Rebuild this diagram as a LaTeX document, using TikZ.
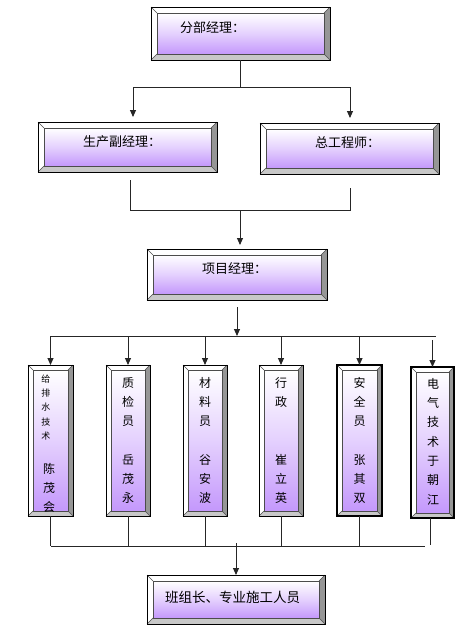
\documentclass[tikz,border=0pt]{standalone}
\usepackage{fontspec}
\newfontfamily\cjk{Noto Sans CJK SC}
\usetikzlibrary{calc,arrows.meta}
\definecolor{lav}{RGB}{196,152,252}
\definecolor{bevR}{RGB}{150,150,150}
\definecolor{bevB}{RGB}{200,200,200}
\tikzset{
  conn/.style={draw=black!85, line width=0.9pt},
  arr/.style={conn, -{Triangle[length=7pt,width=6pt]}},
  lbl/.style={font=\cjk\fontsize{13}{15}\selectfont, inner sep=0pt, anchor=west, text=black},
  col/.style={font=\cjk\fontsize{12}{19.3}\selectfont, align=center, inner sep=0pt, text=black},
  colsmall/.style={font=\cjk\fontsize{9}{14.2}\selectfont, align=center, inner sep=0pt, text=black},
}
% #1 name, #2 cx, #3 cy, #4 W, #5 H, #6 bevel, #7 frame width
\newcommand\bevbox[7]{%
  \node[inner sep=0pt, outer sep=0pt, minimum width=#4pt, minimum height=#5pt] (#1) at (#2,#3) {};
  \fill[white] (#1.north west) -- (#1.north east) -- ($(#1.north east)+(-#6,#6)$) -- ($(#1.north west)+(#6,#6)$) -- ($(#1.south west)+(#6,-#6)$) -- (#1.south west) -- cycle;
  \fill[bevR] (#1.north east) -- (#1.south east) -- ($(#1.south east)+(-#6,-#6)$) -- ($(#1.north east)+(-#6,#6)$) -- cycle;
  \fill[bevB] (#1.south west) -- (#1.south east) -- ($(#1.south east)+(-#6,-#6)$) -- ($(#1.south west)+(#6,-#6)$) -- cycle;
  \shade[top color=white, bottom color=lav, middle color=lav!45, draw=black!70, line width=0.5pt] ($(#1.north west)+(#6,#6)$) rectangle ($(#1.south east)+(-#6,-#6)$);
  \draw[black!70, line width=0.4pt] (#1.north west) -- ++(#6,#6) (#1.north east) -- ++(-#6,#6) (#1.south west) -- ++(#6,-#6) (#1.south east) -- ++(-#6,-#6);
  \draw[black, line width=#7] (#1.north west) rectangle (#1.south east);
}
\begin{document}
\begin{tikzpicture}[x=1pt,y=-1pt]
\fill[white] (0,0) rectangle (473,638);
\useasboundingbox (0,0) rectangle (473,638);

% boxes
\bevbox{A}{240.5}{33.5}{179}{53}{6}{0.8pt}
\bevbox{B}{127.5}{147}{179}{50}{6}{0.8pt}
\bevbox{C}{349.5}{148.5}{179}{51}{6}{0.8pt}
\bevbox{D}{237}{274.5}{180}{51}{6}{0.8pt}
\bevbox{E}{236}{599.5}{178}{49}{6}{0.8pt}
\bevbox{t1}{50.5}{440.5}{45}{151}{5}{0.8pt}
\bevbox{t2}{128}{440.5}{44}{151}{5}{0.8pt}
\bevbox{t3}{205}{440.5}{44}{151}{5}{0.8pt}
\bevbox{t4}{281}{440.5}{44}{151}{5}{0.8pt}
\bevbox{t5}{359.5}{440.5}{45}{151}{5}{1.1pt}
\bevbox{t6}{432.5}{442.5}{43}{151}{5}{1.6pt}

% labels
\node[lbl] (lA) at (180,28) {分部经理：};
\node[lbl] (lB) at (83,142) {生产副经理：};
\node[lbl] (lC) at (315,143) {总工程师：};
\node[lbl] (lD) at (202,269) {项目经理：};
\node[lbl, font=\cjk\fontsize{13.5}{15}\selectfont] (lE) at (165,597) {班组长、专业施工人员};

\node[colsmall] (l1a) at (46,407.5) {给\\排\\水\\技\\术};
\node[col] (l1b) at (49,488) {陈\\茂\\会};
\node[col] (l2) at (128,440.5) {质\\检\\员\\[19.3pt]岳\\茂\\永};
\node[col] (l3) at (205,440.5) {材\\料\\员\\[19.3pt]谷\\安\\波};
\node[col] (l4) at (281,440.5) {行\\政\\[38.6pt]崔\\立\\英};
\node[col] (l5) at (359.5,440.5) {安\\全\\员\\[19.3pt]张\\其\\双};
\node[col] (l6) at (433,441.5) {电\\气\\技\\术\\于\\朝\\江};

% level 1 connectors
\coordinate (j1) at (240,87);
\coordinate (jl) at (133,87);
\coordinate (jr) at (350,87);
\draw[conn] (A.south) -- (A.south |- j1);
\draw[conn] (jl) -- (jr);
\draw[arr, shorten >=5pt] (jl) -- (jl |- B.north);
\draw[arr, shorten >=5pt] (jr) -- (jr |- C.north);

% level 2 connectors
\coordinate (kl) at (130,210);
\coordinate (kr) at (350,210);
\coordinate (km) at (240,210);
\draw[conn] ([yshift=-8pt]B.south -| kl) -- (kl) -- (kr) -- ([yshift=-14pt]C.south -| kr);
\draw[arr, shorten >=4pt] (km) -- (km |- D.north);

% level 3 connectors
\coordinate (m) at (237,336);
\coordinate (hl) at (51,336);
\coordinate (hr) at (436,336);
\draw[arr] ([yshift=-7pt]D.south -| m) -- (m);
\draw[conn] (hl) -- (hr);
\foreach \t in {t1,t2,t3,t4,t5}{
  \draw[arr] (\t.north |- hl) -- (\t.north);
}
\draw[arr] ([yshift=-4pt]t6.north |- hl) -- (t6.north);

% bottom connectors
\coordinate (bl) at (51,546);
\coordinate (br) at (425,546);
\foreach \t in {t1,t2,t3,t4,t5}{
  \draw[conn] (\t.south) -- (\t.south |- bl);
}
\draw[conn] ([xshift=-2.5pt]t6.south) -- ([xshift=-2.5pt,yshift=1pt]t6.south |- bl);
\draw[conn] (bl) -- (br);
\draw[arr] ([yshift=3pt]E.north |- bl) -- (E.north);
\end{tikzpicture}
\end{document}
